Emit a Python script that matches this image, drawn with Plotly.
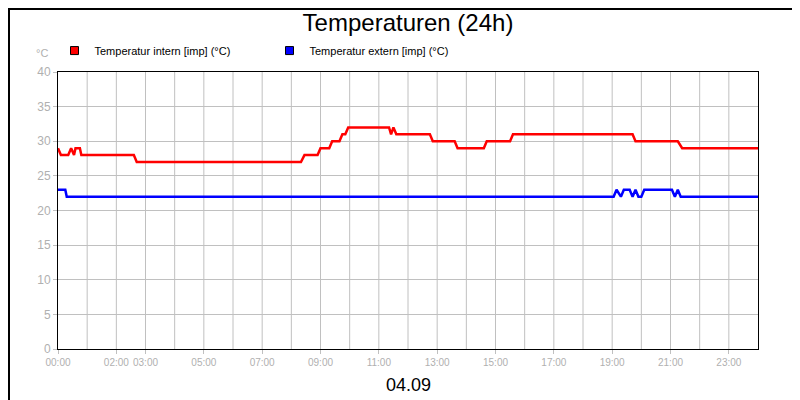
import plotly.graph_objects as go

# time in hours, values in °C
intern_t = [0.0, 0.1, 0.35, 0.45, 0.55, 0.6, 0.75, 0.8, 2.6, 2.7, 8.33, 8.45, 8.9, 9.0, 9.3, 9.4, 9.65, 9.75, 9.85, 9.95,
            11.35, 11.42, 11.5, 11.6, 12.75, 12.85, 13.6, 13.7, 14.6, 14.7, 15.5, 15.6, 19.7, 19.8, 21.25, 21.4, 24.0]
intern_v = [29, 28, 28, 29, 28, 29, 29, 28, 28, 27, 27, 28, 28, 29, 29, 30, 30, 31, 31, 32,
            32, 31, 32, 31, 31, 30, 30, 29, 29, 30, 30, 31, 31, 30, 30, 29, 29]
extern_t = [0.0, 0.25, 0.3, 19.05, 19.15, 19.3, 19.4, 19.6, 19.7, 19.8, 19.9, 20.0, 20.1, 20.3, 21.05, 21.15, 21.25, 21.35, 24.0]
extern_v = [23, 23, 22, 22, 23, 22, 23, 23, 22, 23, 22, 22, 23, 23, 23, 22, 23, 22, 22]
tick_vals = [0, 2, 3, 5, 7, 9, 11, 13, 15, 17, 19, 21, 23]
tick_text = ["00:00", "02:00", "03:00", "05:00", "07:00", "09:00", "11:00", "13:00", "15:00", "17:00", "19:00", "21:00", "23:00"]
names = ["Temperatur intern [imp] (°C)", "Temperatur extern [imp] (°C)"]
colors = ["#ff0000", "#0000ff"]

fig = go.Figure()
for t, v, c in [(intern_t, intern_v, colors[0]), (extern_t, extern_v, colors[1])]:
    fig.add_trace(go.Scatter(x=t, y=v, mode="lines", line=dict(color=c, width=2.5),
                             showlegend=False, hoverinfo="skip"))
for n, c in zip(names, colors):
    fig.add_trace(go.Scatter(x=[None], y=[None], mode="markers", name=n,
                             marker=dict(symbol="square", size=8, color=c, line=dict(color="black", width=1))))

grid = "#c0c0c0"
fig.update_layout(
    width=800, height=400, paper_bgcolor="white", plot_bgcolor="white",
    margin=dict(l=50, r=50, t=64, b=59, autoexpand=False),
    font=dict(family="Liberation Sans, Arial", size=11, color="black"),
    title=dict(text="Temperaturen (24h)", x=0.5, xanchor="center", y=0.985, yanchor="top",
               font=dict(size=24, color="black")),
    legend=dict(orientation="h", x=-0.005, xanchor="left", y=1.025, yanchor="bottom",
                font=dict(size=11), itemwidth=30, entrywidth=170, bgcolor="rgba(0,0,0,0)"),
    xaxis=dict(range=[0, 24], tickvals=tick_vals, ticktext=tick_text, showgrid=False, automargin=False,
               tickangle=0, showline=True, linecolor="black", linewidth=1, mirror=True,
               ticks="outside", ticklen=4, tickcolor=grid, zeroline=False,
               tickfont=dict(size=10, color="#b0b0b0")),
    yaxis=dict(range=[0, 40], dtick=5, gridcolor=grid, showline=True, linecolor="black", linewidth=1,
               mirror=True, zeroline=False, ticks="outside", ticklen=4, tickcolor=grid, automargin=False,
               tickfont=dict(size=12, color="#b0b0b0")),
    annotations=[
        dict(text="°C", xref="paper", yref="paper", x=-0.012, y=1.04, xanchor="right", yanchor="bottom",
             showarrow=False, font=dict(size=11, color="#b0b0b0")),
        dict(text="04.09", xref="paper", yref="paper", x=0.5, y=-0.085, xanchor="center", yanchor="top",
             showarrow=False, font=dict(size=18, color="black")),
    ],
    shapes=[dict(type="rect", xref="paper", yref="paper", x0=-49/700, x1=749/700, y0=-58/277, y1=340/277,
                 line=dict(color="black", width=2))],
)
# hourly vertical grid lines
for h in range(1, 24):
    fig.add_shape(type="line", x0=h, x1=h, y0=0, y1=40, xref="x", yref="y",
                  line=dict(color=grid, width=1), layer="below")
fig.write_html("out.html")
